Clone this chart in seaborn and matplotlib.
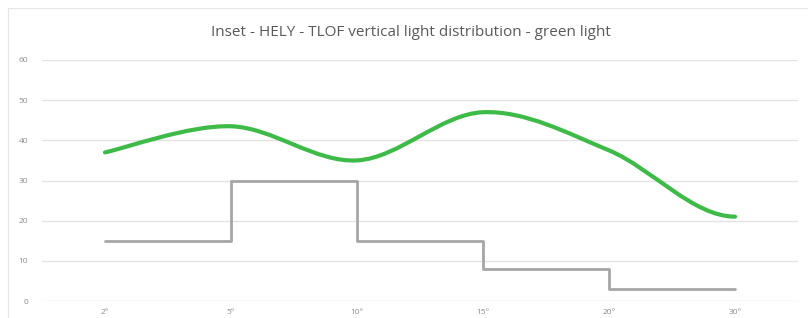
import matplotlib
matplotlib.use('Agg')
import matplotlib.pyplot as plt
from matplotlib.path import Path
from matplotlib.patches import PathPatch, Rectangle
import seaborn as sns
import pandas as pd
import numpy as np

# Data
angles = ["2°", "5°", "10°", "15°", "20°", "30°"]
green_light = [37, 43.5, 35, 47, 37.5, 21]
min_intensity = [15, 30, 15, 8, 3, 3]

sns.set_theme(style="white")
plt.rcParams['font.family'] = ['Open Sans', 'DejaVu Sans']

fig = plt.figure(figsize=(8.08, 3.18), dpi=100)
ax = fig.add_axes([42 / 808, 1 - 301 / 318, 756 / 808, 241 / 318])

# chart border
fig.patches.append(Rectangle((8 / 808, -0.1), 1.2, (318 - 8) / 318 + 0.1,
                             transform=fig.transFigure, fill=False,
                             edgecolor='#e6e6e6', linewidth=0.8))

df = pd.DataFrame({"x": np.arange(len(angles)), "minimum": min_intensity})
sns.lineplot(data=df, x="x", y="minimum", ax=ax, color='#a6a6a6',
             linewidth=2.0, drawstyle='steps-post', zorder=3)

# smoothed green line (bezier smoothing, flat at the last point)
xs = np.arange(len(angles), dtype=float)
ys = np.array(green_light, dtype=float)
verts = [(xs[0], ys[0])]
codes = [Path.MOVETO]
t = 1 / 6
n = len(xs)
for i in range(n - 1):
    x0, y0 = (xs[i - 1], ys[i - 1]) if i > 0 else (xs[i], ys[i])
    x1, y1 = xs[i], ys[i]
    x2, y2 = xs[i + 1], ys[i + 1]
    if i + 2 < n:
        cp2 = (x2 - (xs[i + 2] - x1) * t, y2 - (ys[i + 2] - y1) * t)
    else:
        cp2 = (x2 - (x2 - x1) / 3, y2)
    verts += [(x1 + (x2 - x0) * t, y1 + (y2 - y0) * t), cp2, (x2, y2)]
    codes += [Path.CURVE4] * 3
ax.add_patch(PathPatch(Path(verts, codes), fill=False, edgecolor='#3dba47',
                       linewidth=3.0, capstyle='round', zorder=4))

ax.set_xlim(-0.5, 5.5)
ax.set_ylim(0, 60)
ax.set_yticks(range(0, 61, 10))
ax.set_xticks(xs)
ax.set_xticklabels(angles)
ax.yaxis.grid(True, color='#e3e3e3', linewidth=1.0)
ax.set_axisbelow(True)
for s in ax.spines.values():
    s.set_visible(False)
ax.tick_params(axis='both', length=0, labelsize=6, labelcolor='#8c8c8c')
ax.tick_params(axis='y', pad=10)
ax.tick_params(axis='x', pad=6)
ax.set_xlabel("")
ax.set_ylabel("")

fig.text(411 / 808, 1 - 32 / 318,
         "Inset - HELY - TLOF vertical light distribution - green light",
         ha='center', va='center', fontsize=11, color='#595959')

fig.savefig("out.png", dpi=100)
